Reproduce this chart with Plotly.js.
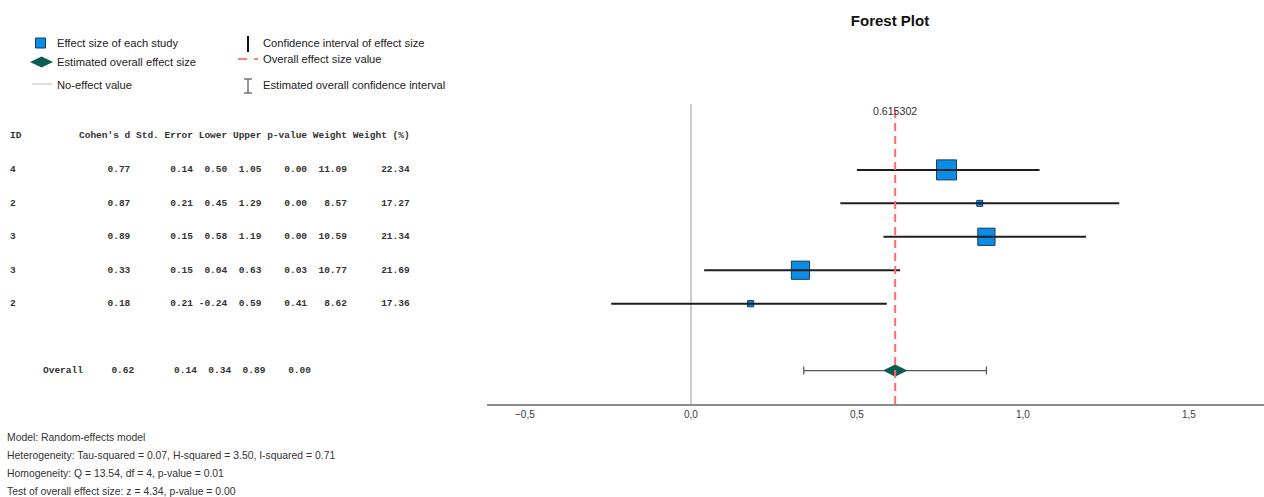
<!DOCTYPE html>
<html>
<head>
<meta charset="utf-8">
<script src="https://cdn.plot.ly/plotly-3.0.1.min.js"></script>
<style>html,body{margin:0;padding:0;background:#fff;}#chart{width:1264px;height:497px;}</style>
</head>
<body>
<div id="chart"></div>
<script>
// ---------------- data ----------------
const studyIds   = ['4', '2', '3', '3', '2'];
const cohensD    = [0.77, 0.87, 0.89, 0.33, 0.18];
const stdError   = [0.14, 0.21, 0.15, 0.15, 0.21];
const lowerCI    = [0.50, 0.45, 0.58, 0.04, -0.24];
const upperCI    = [1.05, 1.29, 1.19, 0.63, 0.59];
const pValues    = [0.00, 0.00, 0.00, 0.03, 0.41];
const weights    = [11.09, 8.57, 10.59, 10.77, 8.62];
const weightPct  = [22.34, 17.27, 21.34, 21.69, 17.36];

const overallD     = 0.62;
const overallExact = 0.615302;
const overallSE    = 0.14;
const overallLower = 0.34;
const overallUpper = 0.89;
const overallP     = 0.00;

const headerCols = ["Cohen's d", "Std. Error", "Lower", "Upper", "p-value", "Weight", "Weight (%)"];
const xTicks = [-0.5, 0, 0.5, 1.0, 1.5];

const statLines = [
  'Model: Random-effects model',
  'Heterogeneity: Tau-squared = 0.07, H-squared = 3.50, I-squared = 0.71',
  'Homogeneity: Q = 13.54, df = 4, p-value = 0.01',
  'Test of overall effect size: z = 4.34, p-value = 0.00'
];

// ---------------- helpers ----------------
const W = 1264, H = 497;
const px = x => x / W;
const py = y => 1 - y / H;
const NB = '\u00A0';
const pad = (s, n) => NB.repeat(Math.max(0, n - s.length)) + s;
const f2 = v => v.toFixed(2);

const rowY = studyIds.map((_, i) => i + 1);
const overallRow = 7;

// ---------------- traces ----------------
const markerSizes = weightPct.map(w => 6 + 2.78 * (w - 17.3));

const studyMarkers = {
  type: 'scatter', mode: 'markers',
  x: cohensD, y: rowY,
  marker: { symbol: 'square', size: markerSizes, color: '#0a8de6', opacity: 1,
            line: { color: '#1b3a57', width: 1 } },
  hoverinfo: 'skip', showlegend: false
};

const ciX = [], ciY = [];
lowerCI.forEach((lo, i) => { ciX.push(lo, upperCI[i], null); ciY.push(rowY[i], rowY[i], null); });
const ciLines = {
  type: 'scatter', mode: 'lines', x: ciX, y: ciY,
  line: { color: '#1e1e1e', width: 2 },
  hoverinfo: 'skip', showlegend: false
};

const overallTrace = {
  type: 'scatter', mode: 'markers',
  x: [overallExact], y: [overallRow],
  marker: { symbol: 'diamond-wide', size: 17.5, color: '#0d5c52', opacity: 1, line: { width: 0 } },
  error_x: { type: 'data', symmetric: false,
             array: [overallUpper - overallExact], arrayminus: [overallExact - overallLower],
             color: '#555555', thickness: 1.2, width: 4 },
  hoverinfo: 'skip', showlegend: false
};

// ---------------- annotations ----------------
const ann = [];
const monoFont = { family: 'Liberation Mono, Courier New, monospace', size: 9.5, color: '#333333', weight: 'bold' };
const sansFont = (s, c) => ({ family: 'Liberation Sans, Arial, sans-serif', size: s, color: c || '#333333' });

// table header
ann.push({ xref: 'paper', yref: 'paper', x: px(8), y: py(135), text: 'ID', showarrow: false,
           xanchor: 'left', yanchor: 'middle', font: monoFont });
ann.push({ xref: 'paper', yref: 'paper', x: px(77), y: py(135), text: headerCols.join(' ').replace(/ /g, NB),
           showarrow: false, xanchor: 'left', yanchor: 'middle', font: monoFont });

// table rows
const widths = headerCols.map(h => h.length);
studyIds.forEach((id, i) => {
  const vals = [f2(cohensD[i]), f2(stdError[i]), f2(lowerCI[i]), f2(upperCI[i]), f2(pValues[i]), f2(weights[i]), f2(weightPct[i])];
  const line = vals.map((v, k) => pad(v, widths[k])).join(NB);
  ann.push({ xref: 'paper', yref: 'y', x: px(8), y: rowY[i], text: id, showarrow: false,
             xanchor: 'left', yanchor: 'middle', font: monoFont });
  ann.push({ xref: 'paper', yref: 'y', x: px(77), y: rowY[i], text: line, showarrow: false,
             xanchor: 'left', yanchor: 'middle', font: monoFont });
});

// overall row
const ovVals = [f2(overallD), f2(overallSE), f2(overallLower), f2(overallUpper), f2(overallP)];
const ovLine = 'Overall' + ovVals.map((v, k) => pad(v, widths[k])).join(NB);
ann.push({ xref: 'paper', yref: 'y', x: px(41), y: overallRow, text: ovLine, showarrow: false,
           xanchor: 'left', yanchor: 'middle', font: monoFont });

// stats lines
const statY = [437, 455, 473, 491];
statLines.forEach((t, i) => ann.push({ xref: 'paper', yref: 'paper', x: px(5), y: py(statY[i]), text: t,
  showarrow: false, xanchor: 'left', yanchor: 'middle', font: sansFont(10.4, '#333333') }));

// overall value label
ann.push({ xref: 'x', yref: 'paper', x: overallExact, y: py(111), text: String(overallExact),
           showarrow: false, xanchor: 'center', yanchor: 'middle', font: sansFont(10.6, '#333333') });

// legend texts
const legendItems = [
  { x: 55, y: 43, t: 'Effect size of each study' },
  { x: 55, y: 62, t: 'Estimated overall effect size' },
  { x: 55, y: 85, t: 'No-effect value' },
  { x: 261, y: 43, t: 'Confidence interval of effect size' },
  { x: 261, y: 59, t: 'Overall effect size value' },
  { x: 261, y: 85, t: 'Estimated overall confidence interval' }
];
legendItems.forEach(l => ann.push({ xref: 'paper', yref: 'paper', x: px(l.x), y: py(l.y), text: l.t,
  showarrow: false, xanchor: 'left', yanchor: 'middle', font: sansFont(11.2, '#222222') }));

// ---------------- shapes ----------------
const shapes = [];
shapes.push({ type: 'line', xref: 'x', yref: 'paper', x0: overallExact, x1: overallExact,
              y0: py(404), y1: py(105), line: { color: '#ff6b6b', width: 2, dash: '8px,5px' }, layer: 'above' });
shapes.push({ type: 'rect', xref: 'paper', yref: 'paper', x0: px(35.5), x1: px(45.5), y0: py(48), y1: py(38),
              fillcolor: '#0a8de6', line: { color: '#1b3a57', width: 1 } });
shapes.push({ type: 'path', xref: 'paper', yref: 'paper',
              path: `M${px(30)},${py(62)} L${px(41.5)},${py(56.5)} L${px(53)},${py(62)} L${px(41.5)},${py(67.5)} Z`,
              fillcolor: '#0d5c52', line: { width: 0 } });
shapes.push({ type: 'line', xref: 'paper', yref: 'paper', x0: px(32), x1: px(52), y0: py(84), y1: py(84),
              line: { color: '#c8c8c8', width: 1.2 } });
shapes.push({ type: 'line', xref: 'paper', yref: 'paper', x0: px(248), x1: px(248), y0: py(36), y1: py(52),
              line: { color: '#111111', width: 2 } });
shapes.push({ type: 'line', xref: 'paper', yref: 'paper', x0: px(238), x1: px(247), y0: py(59), y1: py(59),
              line: { color: '#ff5555', width: 1.5 } });
shapes.push({ type: 'line', xref: 'paper', yref: 'paper', x0: px(254), x1: px(258), y0: py(59), y1: py(59),
              line: { color: '#ff5555', width: 1.5 } });
shapes.push({ type: 'line', xref: 'paper', yref: 'paper', x0: px(248), x1: px(248), y0: py(79), y1: py(93),
              line: { color: '#555555', width: 1.2 } });
shapes.push({ type: 'line', xref: 'paper', yref: 'paper', x0: px(244), x1: px(252), y0: py(79), y1: py(79),
              line: { color: '#555555', width: 1.2 } });
shapes.push({ type: 'line', xref: 'paper', yref: 'paper', x0: px(244), x1: px(252), y0: py(93), y1: py(93),
              line: { color: '#555555', width: 1.2 } });

// ---------------- layout ----------------
const layout = {
  width: W, height: H,
  margin: { l: 0, r: 0, t: 0, b: 0, pad: 0 },
  paper_bgcolor: '#ffffff', plot_bgcolor: '#ffffff',
  separators: ',.',
  title: { text: '<b>Forest Plot</b>', x: 890 / W, xanchor: 'center', y: py(21), yanchor: 'middle',
           xref: 'paper', yref: 'paper', font: { family: 'Liberation Sans, Arial, sans-serif', size: 15, color: '#111111' } },
  xaxis: {
    domain: [487 / W, 1], range: [-0.614, 1.726],
    tickvals: xTicks, tickformat: '.1f', ticks: '',
    showgrid: false, zeroline: true, zerolinecolor: '#cccccc', zerolinewidth: 1.5,
    showline: true, linecolor: '#8c8c8c', linewidth: 2,
    tickfont: { family: 'Liberation Sans, Arial, sans-serif', size: 10, color: '#3a3a3a' },
    fixedrange: true
  },
  yaxis: {
    domain: [1 - 404 / H, 1 - 104 / H], range: [8, -0.97],
    visible: false, showgrid: false, zeroline: false, fixedrange: true
  },
  showlegend: false,
  annotations: ann,
  shapes: shapes
};

Plotly.newPlot('chart', [studyMarkers, ciLines, overallTrace], layout, { displayModeBar: false, staticPlot: true });
</script>
</body>
</html>
